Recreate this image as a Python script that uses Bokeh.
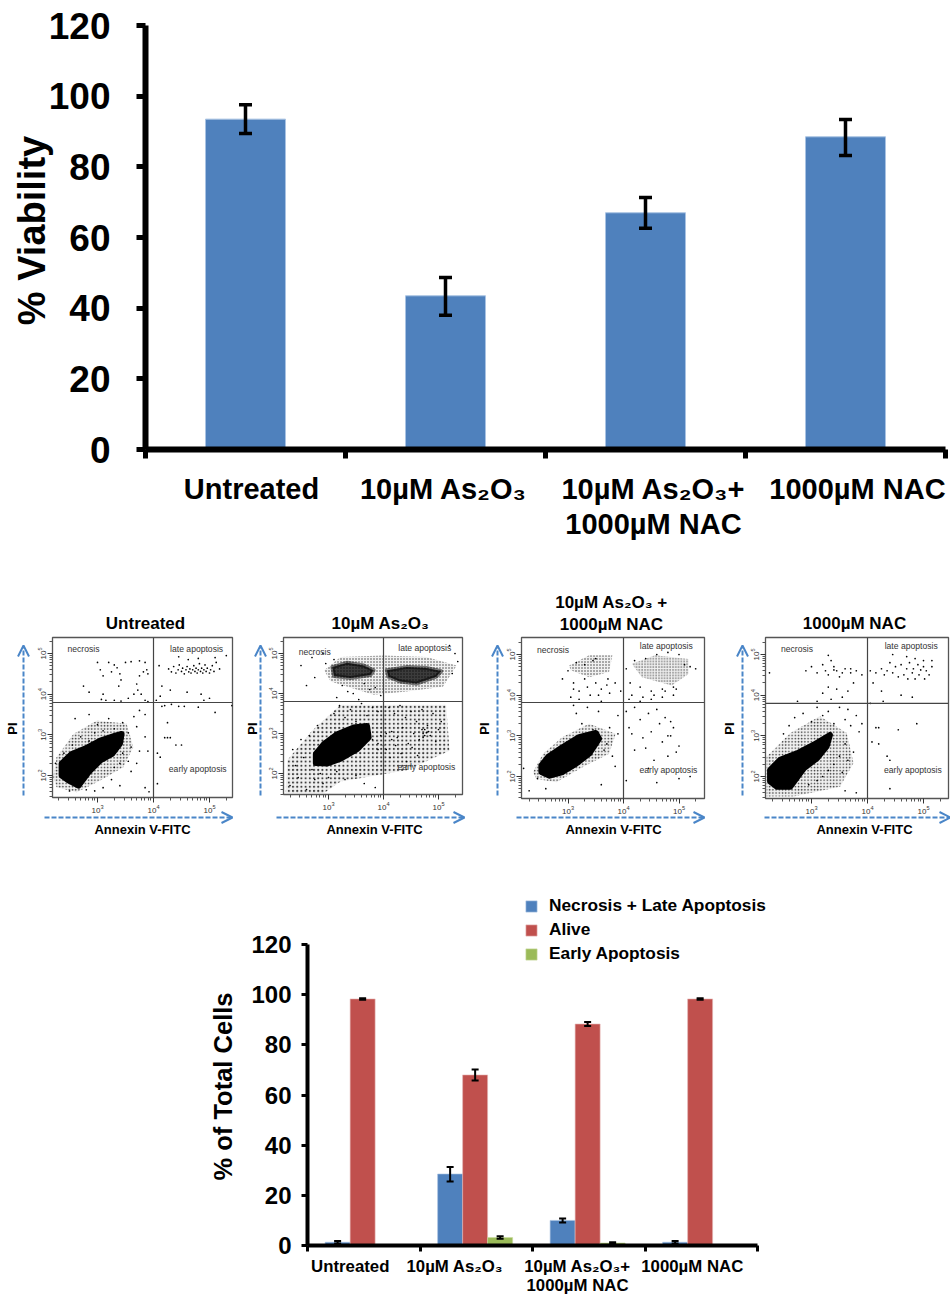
from math import pi
from bokeh.plotting import figure
from bokeh.models import (Range1d, FixedTicker, Whisker, TeeHead, ColumnDataSource, Span, Label,
                          Arrow, OpenHead, LogTickFormatter, Legend, LegendItem)
from bokeh.embed import file_html
from bokeh.resources import INLINE

# ---------- data: top chart ----------
categories = ["Untreated", "10µM As₂O₃", "10µM As₂O₃+\n1000µM NAC", "1000µM NAC"]
viability = [93.5, 43.5, 67, 88.5]
viability_hi = [97.6, 48.7, 71.3, 93.4]
viability_lo = [89.4, 38.0, 62.6, 83.2]

# ---------- data: bottom chart ----------
bottom_categories = ["Untreated", "10µM As₂O₃", "10µM As₂O₃+\n1000µM NAC", "1000µM NAC"]
necrosis_late = [1.3, 28.5, 10.0, 1.3]
necrosis_hi = [1.8, 31.3, 10.8, 1.8]
necrosis_lo = [0.8, 25.5, 9.2, 0.8]
alive = [98.3, 68.0, 88.3, 98.3]
alive_hi = [98.6, 70.2, 89.1, 98.6]
alive_lo = [98.0, 65.8, 87.5, 98.0]
early = [0.0, 3.2, 1.0, 0.0]
early_hi = [0.0, 3.7, 1.3, 0.0]
early_lo = [0.0, 2.7, 0.7, 0.0]

# ---------- data: flow cytometry panels (log10 values) ----------
panel_titles = ["Untreated", "10µM As₂O₃", "10µM As₂O₃ +\n1000µM NAC", "1000µM NAC"]

# dense core outlines
p1_core_x = [2.36,2.54,2.78,3.05,3.32,3.43,3.40,3.26,3.05,2.84,2.66,2.48,2.36]
p1_core_y = [2.29,2.53,2.66,2.86,2.98,3.02,2.78,2.53,2.37,2.08,1.75,1.88,2.00]
p2_core_x = [2.77,2.92,3.16,3.46,3.70,3.73,3.52,3.22,2.98,2.77]
p2_core_y = [2.49,2.74,2.98,3.15,3.19,2.90,2.61,2.37,2.25,2.26]
p3_core_x = [2.52,2.64,2.90,3.20,3.50,3.56,3.38,3.14,2.90,2.67,2.52]
p3_core_y = [2.27,2.48,2.72,2.97,3.07,2.93,2.56,2.31,2.11,2.02,2.11]
p4_core_x = [2.26,2.44,2.74,3.04,3.33,3.27,3.10,2.86,2.62,2.38,2.26]
p4_core_y = [2.16,2.41,2.57,2.78,3.02,2.74,2.45,2.20,1.75,1.75,1.88]

# stippled halo outlines around the clouds
p1_halo_x = [2.21,2.27,2.57,2.99,3.52,3.64,3.46,3.05,2.63,2.27]
p1_halo_y = [1.96,2.45,3.02,3.35,3.27,2.70,2.20,1.88,1.59,1.71]
p2_halo_x = [2.22,2.25,2.70,3.22,4.00,5.14,5.20,4.42,3.22,2.92]
p2_halo_y = [1.51,2.33,3.07,3.72,3.72,3.72,2.57,2.08,1.80,1.51]
p2_band_x = [2.92,3.22,4.00,4.78,5.33,5.08,4.42,3.82,3.04]
p2_band_y = [4.58,4.91,4.95,4.91,4.70,4.17,4.05,3.97,4.30]
p2_necr_x = [3.07,3.34,3.64,3.82,3.76,3.40,3.10]
p2_necr_y = [4.66,4.77,4.70,4.58,4.46,4.39,4.44]
p2_late_x = [4.06,4.42,4.78,5.05,4.96,4.60,4.30,4.09]
p2_late_y = [4.58,4.66,4.64,4.56,4.42,4.25,4.30,4.42]
p3_halo_x = [2.37,2.55,2.90,3.38,3.86,3.74,3.26,2.79,2.43]
p3_halo_y = [2.11,2.56,2.97,3.30,3.05,2.56,2.23,1.86,1.94]
p3_necr_x = [3.02,3.38,3.80,3.74,3.38,3.05]
p3_necr_y = [4.73,4.98,4.98,4.57,4.44,4.61]
p3_late_x = [4.15,4.57,5.17,5.17,4.87,4.33]
p3_late_y = [4.77,4.98,4.89,4.52,4.24,4.44]
p4_halo_x = [2.20,2.20,2.62,3.15,3.63,3.75,3.51,2.68]
p4_halo_y = [1.51,2.49,3.07,3.48,3.07,2.33,1.75,1.51]

# individually read events
p1_dots_x = [3.0,3.05,3.1,3.2,3.25,3.3,3.35,3.4,3.42,3.38,3.5,3.6,3.75,3.85,3.88,3.82,3.9,3.75,3.7,3.72,3.78,3.85,3.9,3.1,3.07,3.15,3.3,3.42,2.75,2.85,3.55,3.65,
 4.27,4.32,4.36,4.40,4.44,4.46,4.50,4.52,4.55,4.58,4.60,4.63,4.65,4.67,4.70,4.72,4.74,4.76,4.78,4.80,4.82,4.84,4.86,4.88,4.90,4.92,4.94,4.96,5.0,5.02,5.05,5.08,5.12,5.18,4.45,4.62,4.80,5.10,5.30,4.10,4.15,4.3,4.6,4.85,4.9,5.0,4.12,4.05,
 4.15,4.2,4.32,4.45,4.55,4.8,5.1,5.4,4.25,4.2,4.25,4.3,4.4,4.5,4.07,4.12,4.07,
 2.6,2.85,3.0,3.1,3.2,3.3,3.45,3.55,3.65,3.75,3.85,3.7,3.85,3.9,3.75,3.6,3.45,3.55,3.4,3.7,3.6,3.3,3.25,3.4,3.1,2.95,2.8,3.85,3.92,2.5,2.25,2.4,2.55,2.7,2.85,2.95]
p1_dots_y = [4.78,4.6,4.45,4.78,4.55,4.72,4.65,4.5,4.35,4.2,4.78,4.8,4.82,4.78,4.6,4.55,4.5,4.45,4.25,4.1,4.0,3.85,3.82,4.0,3.87,3.85,3.85,3.83,4.2,4.05,3.9,4.0,
 4.62,4.55,4.68,4.52,4.60,4.72,4.56,4.64,4.50,4.60,4.68,4.55,4.62,4.52,4.60,4.70,4.56,4.64,4.52,4.60,4.75,4.56,4.64,4.52,4.60,4.72,4.56,4.64,4.52,4.60,4.70,4.56,4.78,4.62,4.92,4.85,4.88,4.90,4.95,4.70,4.2,4.1,4.05,4.0,3.85,3.9,3.95,3.85,
 3.7,3.72,3.75,3.7,3.7,3.68,3.55,3.72,3.3,2.93,2.93,2.93,2.75,2.75,2.55,2.45,1.8,
 3.4,3.5,3.25,3.1,3.4,3.15,3.3,3.05,3.45,3.6,3.5,3.2,2.95,2.6,2.6,2.7,2.55,2.35,2.3,2.3,2.1,2.2,1.9,1.75,1.7,1.62,1.65,1.7,1.6,1.62,2.3,2.55,2.75,2.95,2.85,3.05]

p2_dots_x = [2.3,2.45,2.6,2.75,2.9,2.4,2.55,2.7,2.85,3.0,3.15,3.3,3.5,3.65,3.85,2.35,2.5,2.65,2.8,
 4.1,4.2,4.3,4.4,4.5,4.6,4.7,4.8,4.9,5.0,4.15,4.25,4.35,4.45,4.55,4.65,4.75,4.85,4.95,5.05,4.05,4.12,4.22,4.32,4.42,4.52,4.62,4.72,4.82,4.72,4.75,4.70,4.78,
 3.1,3.2,3.3,3.4,3.5,3.6,3.7,3.8,3.9,3.15,3.35,3.55,3.75,3.95,3.25,3.45,3.65,3.85,
 2.6,2.75,2.95,3.1,5.2,5.3,5.35,5.25,2.5,2.7,2.9,3.9,3.8,3.95,4.05,4.15,4.0,3.9]
p2_dots_y = [1.7,1.9,1.6,1.85,1.75,2.2,2.4,2.1,2.0,1.9,2.05,1.85,1.95,1.75,1.65,2.6,2.85,2.95,3.2,
 3.65,3.5,3.7,3.4,3.55,3.3,3.6,3.2,3.5,3.1,3.05,2.9,3.15,2.75,3.0,2.85,3.1,2.95,2.8,3.3,2.6,2.4,2.7,2.5,2.3,2.65,2.45,2.9,3.05,3.0,2.95,3.1,3.02,
 3.5,3.7,3.4,3.6,3.3,3.75,3.45,3.65,3.55,3.9,4.05,3.85,4.1,3.95,4.2,4.0,4.25,4.15,
 4.2,4.4,4.75,4.85,5.2,5.0,4.8,4.5,4.7,4.9,5.0,2.75,2.85,2.95,3.0,2.85,2.7,2.6]

p3_dots_x = [3.0,3.1,3.15,3.2,3.3,3.35,3.45,3.5,3.55,3.6,3.7,3.75,3.85,3.95,3.05,3.2,3.4,3.6,3.1,3.3,3.5,3.72,2.9,
 4.05,4.12,4.2,4.3,4.4,4.5,4.6,4.7,4.8,4.9,5.0,5.1,5.2,5.3,4.15,4.35,4.55,4.75,4.95,4.1,4.3,4.5,4.7,4.9,
 3.1,3.15,3.25,3.35,3.45,3.55,3.75,3.9,4.05,4.1,4.2,4.3,4.35,4.45,4.5,4.6,4.65,4.7,4.75,4.8,4.85,4.9,4.95,5.0,4.15,4.4,4.55,4.8,4.85,4.2,4.45,5.2,5.0,4.6,4.05,
 3.6,3.7,3.8,3.9,3.65,3.85,2.2,2.45,2.6,2.3,2.7]
p3_dots_y = [4.6,4.3,4.8,4.1,4.4,4.2,4.85,4.3,4.0,4.15,4.25,4.05,4.3,4.1,3.95,3.9,4.0,3.85,4.15,4.75,4.9,4.4,4.4,
 4.65,4.3,4.85,4.2,4.9,4.1,5.0,4.15,5.05,4.2,5.0,4.75,4.7,4.65,4.0,3.95,4.0,4.1,4.15,3.9,3.85,3.9,3.95,4.0,
 3.75,3.55,3.3,3.7,3.15,3.6,3.2,3.5,3.6,3.2,3.7,3.4,2.95,3.55,3.1,3.65,3.3,2.85,3.45,3.0,3.35,3.2,2.6,2.75,3.05,2.7,2.4,2.5,3.0,2.65,2.2,2.0,1.95,1.85,1.9,1.8,
 2.8,2.5,3.05,2.65,2.25,2.2,1.95,1.7,1.65,2.1,1.6]

p4_dots_x = [2.25,2.9,3.0,3.1,3.2,3.25,3.3,3.35,3.4,3.45,3.5,3.6,3.7,3.8,3.9,3.3,3.2,3.45,3.55,3.65,3.75,3.1,3.35,3.3,3.4,3.55,3.7,2.75,
 4.05,4.15,4.25,4.3,4.35,4.4,4.45,4.5,4.55,4.6,4.65,4.7,4.72,4.75,4.8,4.82,4.85,4.9,4.92,4.95,5.0,5.02,5.05,5.1,5.15,4.45,4.7,4.85,5.0,5.15,4.1,4.25,4.6,4.8,4.05,4.28,
 4.15,4.2,4.55,4.88,4.08,4.2,4.35,4.4,4.4,
 2.5,2.6,2.7,2.85,3.0,3.1,3.2,3.3,3.4,3.5,3.6,3.65,3.7,3.8,3.85,3.9,3.6,3.5,3.75,3.4,3.3,3.55,3.65,3.2,3.1,2.95,3.6,3.8]
p4_dots_y = [4.55,4.6,4.7,4.55,4.75,4.6,4.5,4.85,4.7,4.6,4.45,4.65,4.55,4.6,4.5,4.2,4.05,4.15,3.95,4.1,4.3,3.85,3.9,4.98,4.62,4.55,4.65,3.85,
 4.6,4.55,4.65,4.5,4.6,4.8,4.55,4.7,4.45,4.75,4.5,4.65,4.4,4.8,4.55,4.65,4.4,4.75,4.5,4.62,4.7,4.4,4.6,4.5,4.7,5.0,4.95,4.9,4.85,4.85,4.3,4.1,4.0,3.95,3.8,3.85,
 3.2,3.2,3.15,3.3,2.85,2.8,2.5,2.4,1.7,
 3.05,3.25,3.45,3.55,3.35,3.7,3.5,3.6,3.3,3.7,3.4,3.65,3.25,3.5,3.1,3.3,2.8,2.5,2.6,2.3,2.15,2.1,2.4,2.0,1.9,1.8,1.65,1.6]

BOLD = "Liberation Sans"
BLUE, RED, GREEN = "#4F81BD", "#C0504D", "#9BBB59"
ARROW = "#4A86C8"

def at(left, top):
    return {"position": "absolute", "left": f"{left}px", "top": f"{top}px"}

def category_axis(p, label_pos, labels, width, tick_out, font, standoff, line_height):
    ax = p.xaxis[0]
    ax.ticker = FixedTicker(ticks=label_pos, minor_ticks=list(range(5)))
    ax.bounds = (0, 4)
    ax.major_label_overrides = dict(zip(label_pos, labels))
    ax.major_tick_line_color = None
    ax.minor_tick_line_color = "black"
    ax.minor_tick_line_width = width - 1
    ax.minor_tick_out = tick_out
    ax.minor_tick_in = 0
    ax.axis_line_width = width
    ax.major_label_text_font = BOLD
    ax.major_label_text_font_style = "bold"
    ax.major_label_text_font_size = font
    ax.major_label_text_color = "black"
    ax.major_label_text_line_height = line_height
    ax.major_label_standoff = standoff

def value_axis(p, width, tick_out, font):
    ax = p.yaxis[0]
    ax.ticker = FixedTicker(ticks=list(range(0, 121, 20)), minor_ticks=[])
    ax.bounds = (0, 120)
    ax.axis_line_width = width
    ax.major_tick_line_width = width - 1
    ax.major_tick_out = tick_out
    ax.major_tick_in = 0
    ax.major_label_text_font = BOLD
    ax.major_label_text_font_style = "bold"
    ax.major_label_text_font_size = font
    ax.major_label_text_color = "black"

def errorbars(p, xs, hi, lo, lw, head):
    src = ColumnDataSource(dict(x=xs, hi=hi, lo=lo))
    p.add_layout(Whisker(source=src, base="x", upper="hi", lower="lo", line_width=lw, line_color="black",
                         level="overlay",
                         upper_head=TeeHead(size=head, line_width=lw, line_color="black"),
                         lower_head=TeeHead(size=head, line_width=lw, line_color="black")))

# ---------- top chart ----------
top = figure(width=950, height=570, output_backend="svg", toolbar_location=None,
             x_range=Range1d(0, 4), y_range=Range1d(0, 120),
             min_border_left=145, min_border_right=5, min_border_top=25, min_border_bottom=121,
             frame_width=800, frame_height=424, styles=at(0, 0))
top.grid.visible = False
top.outline_line_color = None
centers = [i + 0.5 for i in range(4)]
top.vbar(x=centers, top=viability, width=0.4, fill_color=BLUE, line_color="#A9C3E3", line_width=1)
errorbars(top, centers, viability_hi, viability_lo, 3.5, 13)
value_axis(top, 6, 9, "37px")
top.yaxis[0].major_label_standoff = 26
category_axis(top, [0.53, 1.49, 2.54, 3.56], categories, 6, 9, "29px", 14, 1.1)

# ---------- flow panels ----------
fig_left = [0, 240, 475, 710]
fig_width = [240, 235, 235, 240]
frame_l = [52, 283, 521, 765]
frame_r = [232, 462, 704, 948]
frame_b = [797, 794, 798, 798]
v_px = [153, 383, 623, 867]
x_dec = [56, 55, 55.5, 56]
y2_px = [775, 773, 776, 776]
y5_px = [653, 653, 654, 654]
h_line = [3.795, 3.80, 3.82, 3.80]
title_xy = [(145, 623), (380, 623), (611, 613), (854, 623)]
xlabel_x = [142, 374, 613, 864]
pi_x = [12, 252, 484, 729]
yarrow_x = [23, 260, 497, 742]
xarrow = [(44, 232), (276, 464), (516, 704), (764, 950)]
notes = [[(2.75, 5.10), (4.77, 5.10), (4.79, 2.15)],
         [(2.75, 5.05), (4.75, 5.13), (4.78, 2.16)],
         [(2.73, 5.11), (4.77, 5.20), (4.81, 2.15)],
         [(2.74, 5.13), (4.78, 5.20), (4.81, 2.16)]]
# each outline with the spacing of its stipple
halos = [[(p1_halo_x, p1_halo_y, 3.2)],
         [(p2_halo_x, p2_halo_y, 4.2), (p2_band_x, p2_band_y, 3.0)],
         [(p3_halo_x, p3_halo_y, 3.2), (p3_necr_x, p3_necr_y, 3.0), (p3_late_x, p3_late_y, 2.8)],
         [(p4_halo_x, p4_halo_y, 3.2)]]
mids = [[], [(p2_necr_x, p2_necr_y), (p2_late_x, p2_late_y)], [], []]
cores = [(p1_core_x, p1_core_y), (p2_core_x, p2_core_y), (p3_core_x, p3_core_y), (p4_core_x, p4_core_y)]
dots = [(p1_dots_x, p1_dots_y), (p2_dots_x, p2_dots_y), (p3_dots_x, p3_dots_y), (p4_dots_x, p4_dots_y)]
ROW_TOP, ROW_H, FRAME_T = 570, 280, 637

def exp10(vals):
    return [10 ** v for v in vals]

panels = []
for i in range(4):
    dy = (y2_px[i] - y5_px[i]) / 3
    x_lo = 4 - (v_px[i] - frame_l[i]) / x_dec[i]
    x_hi = 4 + (frame_r[i] - v_px[i]) / x_dec[i]
    y_lo = 2 - (frame_b[i] - y2_px[i]) / dy
    y_hi = 5 + (y5_px[i] - FRAME_T) / dy
    p = figure(width=fig_width[i], height=ROW_H, output_backend="svg", toolbar_location=None,
               x_axis_type="log", y_axis_type="log",
               x_range=Range1d(10 ** x_lo, 10 ** x_hi), y_range=Range1d(10 ** y_lo, 10 ** y_hi),
               frame_width=frame_r[i] - frame_l[i], frame_height=frame_b[i] - FRAME_T,
               min_border_left=frame_l[i] - fig_left[i],
               min_border_right=fig_left[i] + fig_width[i] - frame_r[i],
               min_border_top=FRAME_T - ROW_TOP,
               min_border_bottom=ROW_TOP + ROW_H - frame_b[i],
               styles=at(fig_left[i], ROW_TOP))
    p.grid.visible = False
    p.outline_line_color = "#555555"
    p.outline_line_width = 1.3
    for hx, hy, spacing in halos[i]:
        p.patch(exp10(hx), exp10(hy), fill_color="black", fill_alpha=0.06, line_color=None,
                hatch_pattern="dot", hatch_color="black", hatch_scale=spacing, hatch_weight=0.7, hatch_alpha=0.75)
    for mx, my in mids[i]:
        p.patch(exp10(mx), exp10(my), fill_color="black", fill_alpha=0.75, line_color="black",
                line_alpha=0.5, line_width=4, line_join="round")
    cx, cy = cores[i]
    p.patch(exp10(cx), exp10(cy), fill_color="black", line_color="black", line_width=6, line_join="round")
    dx, dy_vals = dots[i]
    p.scatter(exp10(dx), exp10(dy_vals), size=1.7, color="black", line_color=None)
    p.add_layout(Span(location=1e4, dimension="height", line_color="#444444", line_width=1.2))
    p.add_layout(Span(location=10 ** h_line[i], dimension="width", line_color="#444444", line_width=1.2))
    for (nx, ny), txt in zip(notes[i], ["necrosis", "late apoptosis", "early apoptosis"]):
        p.add_layout(Label(x=10 ** nx, y=10 ** ny, text=txt, text_font=BOLD, text_font_size="8.6px",
                           text_align="center", text_baseline="middle", text_color="#333333"))
    for ax, ticks in ((p.xaxis[0], [3, 4, 5]), (p.yaxis[0], [2, 3, 4, 5])):
        low = ticks[0] - 1
        ax.ticker = FixedTicker(ticks=[10 ** t for t in ticks],
                                minor_ticks=[m * 10 ** d for d in range(low, 6) for m in range(2, 10)])
        ax.formatter = LogTickFormatter()
        ax.major_label_text_font = BOLD
        ax.major_label_text_font_size = "8px"
        ax.major_label_text_color = "#333333"
        ax.major_label_standoff = 2
        ax.axis_line_color = None
        ax.major_tick_line_color = "#333333"
        ax.minor_tick_line_color = "#555555"
        ax.major_tick_out = 5
        ax.major_tick_in = 0
        ax.minor_tick_out = 3
        ax.minor_tick_in = 0
    p.yaxis[0].major_label_orientation = "vertical"
    panels.append(p)

# ---------- bottom chart ----------
FRAME_H, FRAME_PX_120, FRAME_W, PX_4 = 350, 301, 500, 450
bot = figure(width=950, height=446, output_backend="svg", toolbar_location=None,
             x_range=Range1d(0, 4 * FRAME_W / PX_4), y_range=Range1d(0, 120 * FRAME_H / FRAME_PX_120),
             frame_width=FRAME_W, frame_height=FRAME_H,
             min_border_left=307, min_border_right=143, min_border_top=45, min_border_bottom=51,
             styles=at(0, 850))
bot.grid.visible = False
bot.outline_line_color = None
W = 2 / 9
bc = [i + 0.49 for i in range(4)]
xb = [c - W for c in bc]
xg = [c + W for c in bc]
r1 = bot.vbar(x=xb, top=necrosis_late, width=W, fill_color=BLUE, line_color="#A9C3E3", line_width=0.6)
r2 = bot.vbar(x=bc, top=alive, width=W, fill_color=RED, line_color="#E6B9B8", line_width=0.6)
r3 = bot.vbar(x=xg, top=early, width=W, fill_color=GREEN, line_color="#C9DA9F", line_width=0.6)
errorbars(bot, xb, necrosis_hi, necrosis_lo, 2, 7)
errorbars(bot, bc, alive_hi, alive_lo, 2, 7)
errorbars(bot, xg, early_hi, early_lo, 2, 7)
value_axis(bot, 4, 6, "24px")
bot.yaxis[0].major_label_standoff = 10
category_axis(bot, [0.38, 1.31, 2.40, 3.42], bottom_categories, 4, 6, "16.8px", 5, 1.0)
legend = Legend(items=[LegendItem(label="Necrosis + Late Apoptosis", renderers=[r1]),
                       LegendItem(label="Alive", renderers=[r2]),
                       LegendItem(label="Early Apoptosis", renderers=[r3])],
                location=(217, 281), border_line_color=None, background_fill_alpha=0,
                padding=0, margin=0, spacing=3, glyph_width=14, glyph_height=14, label_height=14,
                label_standoff=11, label_text_font=BOLD, label_text_font_style="bold",
                label_text_font_size="17.3px", label_text_color="black")
bot.add_layout(legend)

# ---------- transparent page overlay: axis arrows and titles placed on the page ----------
over = figure(width=950, height=1296, output_backend="svg", toolbar_location=None,
              x_range=Range1d(0, 950), y_range=Range1d(1296, 0),
              x_axis_location=None, y_axis_location=None, min_border=0,
              background_fill_alpha=0, border_fill_alpha=0, styles=at(0, 0))
over.grid.visible = False
over.outline_line_color = None

def page_text(x, y, text, size, angle=0.0, line_height=1.2):
    over.add_layout(Label(x=x, y=y, text=text, text_font=BOLD, text_font_style="bold", text_font_size=size,
                          text_align="center", text_baseline="middle", text_color="black", angle=angle,
                          text_line_height=line_height))

page_text(31, 230, "% Viability", "38px", angle=pi / 2)
page_text(222, 1086, "% of Total Cells", "25.5px", angle=pi / 2)
for i in range(4):
    head = dict(size=11, line_color=ARROW, line_width=2)
    x0, x1 = xarrow[i]
    over.add_layout(Arrow(end=OpenHead(**head), x_start=x0, x_end=x1, y_start=817, y_end=817,
                          line_color=ARROW, line_width=2, line_dash="5 2"))
    over.add_layout(Arrow(end=OpenHead(**head), x_start=yarrow_x[i], x_end=yarrow_x[i], y_start=795, y_end=645,
                          line_color=ARROW, line_width=2, line_dash="5 2"))
    page_text(title_xy[i][0], title_xy[i][1], panel_titles[i], "17px")
    page_text(xlabel_x[i], 829, "Annexin V-FITC", "13px")
    page_text(pi_x[i], 728, "PI", "13px", angle=pi / 2)

open("out.html", "w").write(file_html([top, *panels, bot, over], INLINE))
